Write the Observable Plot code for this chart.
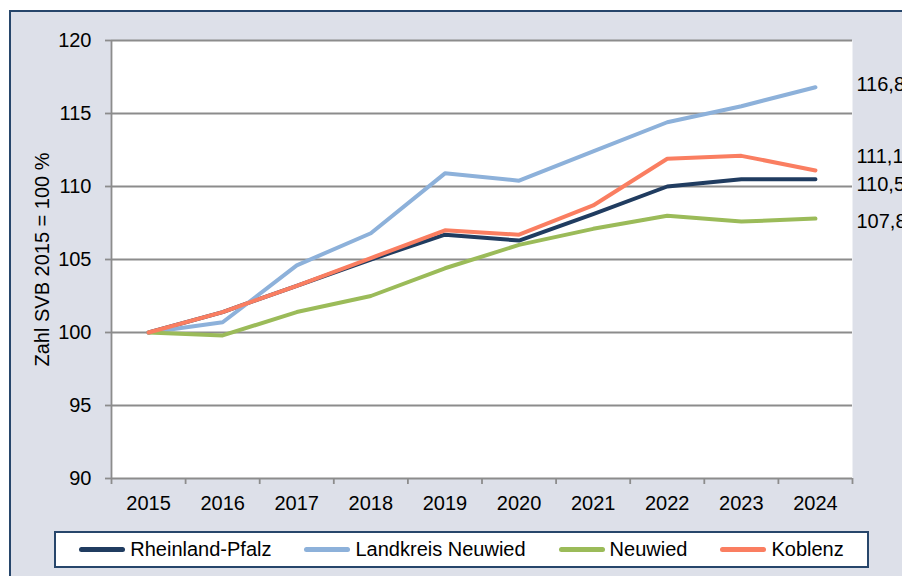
<!DOCTYPE html>
<html>
<head>
<meta charset="utf-8">
<script src="https://cdn.jsdelivr.net/npm/d3@7"></script>
<script src="https://cdn.jsdelivr.net/npm/@observablehq/plot@0.6"></script>
<style>
  html, body { margin: 0; padding: 0; background: #fff; }
  #wrap { position: relative; width: 902px; height: 576px; overflow: hidden; background: #fff;
          font-family: "Liberation Sans", Arial, sans-serif; color: #000; }
  #frame { position: absolute; left: 9px; top: 10px; width: 1000px; height: 700px;
           border-left: 2px solid #27466b; border-top: 2px solid #27466b; background: #dde0e9; }
  #chart { position: absolute; left: 0; top: 0; }
  #legend { position: absolute; left: 54px; top: 531px; width: 811px; height: 33px;
            border: 2px solid #27466b; background: #fff; display: flex; align-items: center;
            justify-content: center; gap: 33px; font-size: 20px; }
  .item { display: flex; align-items: center; gap: 5px; white-space: nowrap; }
  .sw { display: inline-block; width: 46px; height: 5px; border-radius: 3px; }
</style>
</head>
<body>
<div id="wrap">
  <div id="frame"></div>
  <div id="chart"></div>
  <div id="legend"></div>
</div>
<script>
// ---- data ----
const years = [2015, 2016, 2017, 2018, 2019, 2020, 2021, 2022, 2023, 2024];
const seriesNames = ["Rheinland-Pfalz", "Landkreis Neuwied", "Neuwied", "Koblenz"];
const rheinlandPfalz   = [100, 101.4, 103.2, 105.0, 106.7, 106.3, 108.1, 110.0, 110.5, 110.5];
const landkreisNeuwied = [100, 100.7, 104.6, 106.8, 110.9, 110.4, 112.4, 114.4, 115.5, 116.8];
const neuwied          = [100,  99.8, 101.4, 102.5, 104.4, 106.0, 107.1, 108.0, 107.6, 107.8];
const koblenz          = [100, 101.4, 103.2, 105.1, 107.0, 106.7, 108.7, 111.9, 112.1, 111.1];
const yTicks = [90, 95, 100, 105, 110, 115, 120];
const yTitle = "Zahl SVB 2015 = 100 %";

// ---- styling ----
const colors = ["#203c60", "#8db1da", "#9bbb59", "#fa7e61"];
const labelNudge = [-0.38, 0.2, -0.23, 0.94]; // vertical nudge (data units) for end labels, per series
const font = "'Liberation Sans', Arial, sans-serif";
const gridColor = "#8c8c8c";

const seriesValues = [rheinlandPfalz, landkreisNeuwied, neuwied, koblenz];
const rows = seriesNames.flatMap((s, i) => years.map((y, j) => ({series: s, year: y, value: seriesValues[i][j]})));
const fmt = d3.format(".1f");
const endLabels = seriesNames.map((s, i) => {
  const v = seriesValues[i][years.length - 1];
  return {series: s, year: years[years.length - 1], value: v, pos: v + labelNudge[i], text: fmt(v).replace(".", ",")};
});
const boundaries = years.map(y => y - 0.5).concat([years[years.length - 1] + 0.5]);

const chart = Plot.plot({
  width: 902,
  height: 525,
  marginLeft: 111,
  marginRight: 50,
  marginTop: 40,
  marginBottom: 47,
  style: {fontFamily: font, fontSize: "20px", background: "transparent", color: "#000", overflow: "visible"},
  x: {type: "linear", domain: [boundaries[0], boundaries[boundaries.length - 1]]},
  y: {domain: [90, 120]},
  color: {domain: seriesNames, range: colors},
  marks: [
    Plot.frame({fill: "white", stroke: null}),
    Plot.gridY(yTicks, {stroke: gridColor, strokeOpacity: 1, strokeWidth: 1.8}),
    Plot.ruleX([boundaries[0]], {stroke: gridColor, strokeWidth: 1.8}),
    Plot.axisY(yTicks, {tickSize: 6, tickPadding: 14, stroke: gridColor, strokeWidth: 1.8,
      fontSize: 20, label: yTitle, labelAnchor: "center", labelArrow: "none", labelOffset: 77}),
    Plot.axisX(boundaries, {tickSize: 6, stroke: gridColor, strokeWidth: 1.8, tickFormat: () => "", label: null}),
    Plot.axisX(years, {tickSize: 0, tickPadding: 17, tickFormat: d => String(d), fontSize: 20, label: null}),
    Plot.line(rows, {x: "year", y: "value", stroke: "series", z: "series", strokeWidth: 4,
      strokeLinecap: "round", strokeLinejoin: "round"}),
    Plot.text(endLabels, {x: "year", y: "pos", text: "text", dx: 41, textAnchor: "start", fontSize: 20, fill: "#000"})
  ]
});
document.getElementById("chart").appendChild(chart);

const legend = document.getElementById("legend");
seriesNames.forEach((s, i) => {
  const item = document.createElement("div");
  item.className = "item";
  const sw = document.createElement("span");
  sw.className = "sw";
  sw.style.background = colors[i];
  const t = document.createElement("span");
  t.textContent = s;
  item.appendChild(sw);
  item.appendChild(t);
  legend.appendChild(item);
});
</script>
</body>
</html>
